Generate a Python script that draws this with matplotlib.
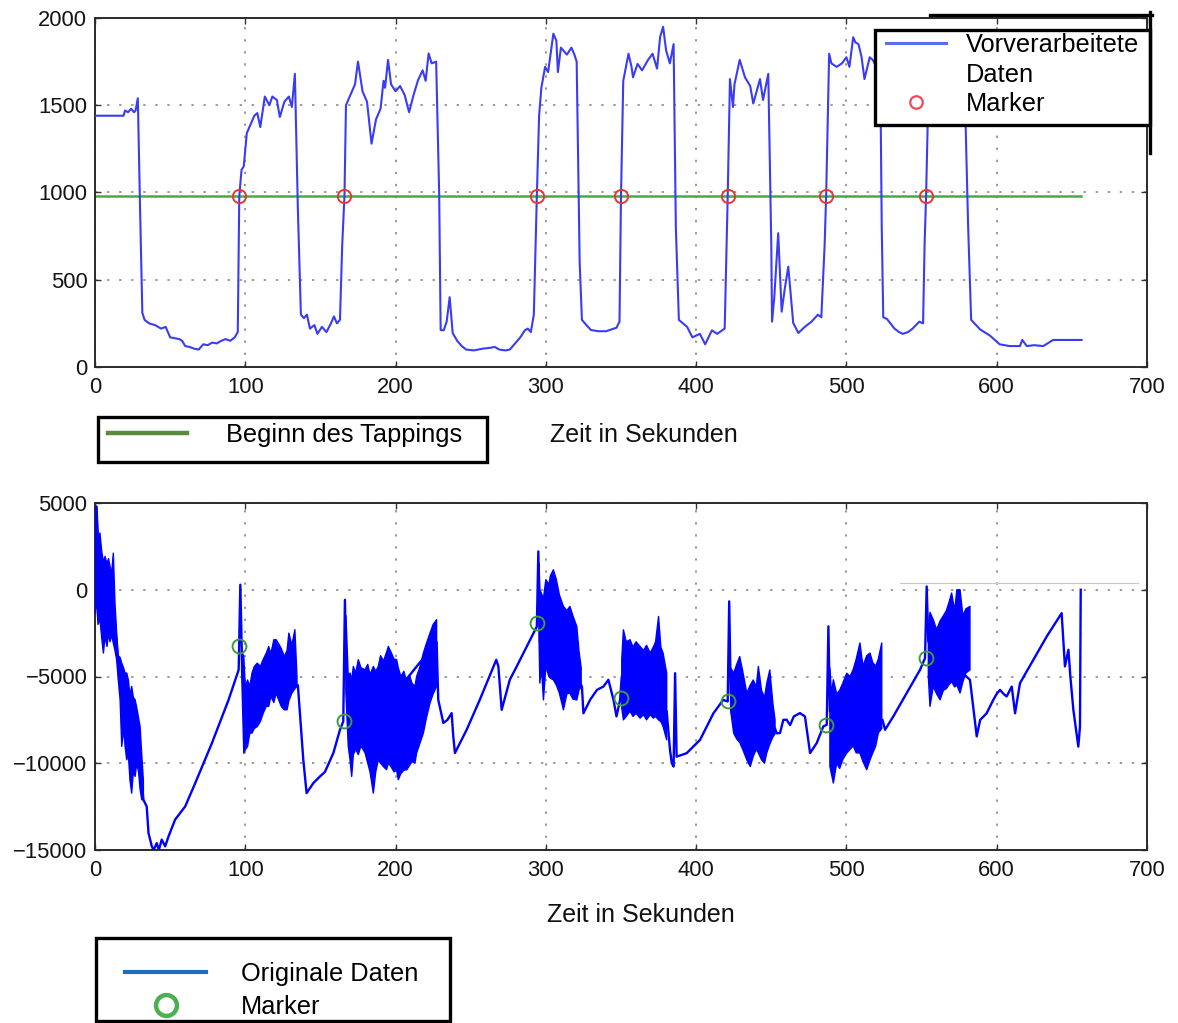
import numpy as np
import matplotlib
matplotlib.use("Agg")
import matplotlib.pyplot as plt
from matplotlib.lines import Line2D
from matplotlib.patches import Rectangle

plt.rcParams['font.family'] = ['Liberation Sans', 'DejaVu Sans']

# ---------------- data ----------------
# preprocessed signal (time s, value)
preprocessed = [
    (0, 1440), (19, 1440), (20, 1470), (22, 1460), (24, 1480), (26, 1460), (27, 1470), (28.5, 1540),
    (30, 900), (31.5, 310), (33, 270), (36, 250), (40, 240), (44, 220), (47, 230), (50, 170), (53, 165),
    (56, 160), (58, 150), (60, 120), (63, 115), (66, 105), (69, 100), (72, 130), (75, 125), (78, 140),
    (81, 135), (84, 150), (87, 160), (90, 150), (93, 170), (95, 200), (96, 980), (97.5, 1130), (99, 1150),
    (101, 1340), (104, 1400), (106, 1440), (108, 1455), (110, 1375), (113, 1550), (116, 1500), (118, 1550),
    (121, 1530), (123, 1433), (126, 1520), (129, 1550), (131, 1490), (133, 1680), (135, 900), (137, 300),
    (139, 280), (141, 300), (143, 220), (146, 240), (148, 190), (151, 230), (154, 200), (157, 250),
    (159, 290), (161, 250), (163, 270), (164.5, 700), (166, 980), (167, 1500), (169, 1540), (171, 1580),
    (173, 1620), (175, 1750), (178, 1580), (181, 1520), (184, 1280), (187, 1420), (190, 1480), (192, 1640),
    (193, 1600), (195, 1760), (197, 1620), (200, 1580), (203, 1610), (206, 1560), (209, 1460), (212, 1560),
    (215, 1645), (218, 1700), (220, 1640), (222, 1797), (224, 1740), (227, 1750), (229, 1000), (230, 212),
    (232, 210), (234, 260), (236, 400), (238, 195), (241, 150), (244, 120), (247, 100), (252, 95),
    (258, 105), (263, 110), (266, 115), (269, 100), (273, 95), (276, 100), (280, 140), (283, 170),
    (286, 210), (288, 220), (290, 200), (292, 300), (294, 980), (295.5, 1440), (297, 1600), (299.5, 1720),
    (301.5, 1690), (305, 1910), (307, 1870), (308, 1690), (310, 1830), (314, 1790), (317, 1830),
    (319, 1790), (320.5, 1750), (322.5, 600), (324, 270), (327, 240), (330, 212), (335, 205), (340, 205),
    (347, 225), (349, 260), (350, 980), (351.5, 1640), (355, 1795), (357, 1720), (358, 1660), (361, 1737),
    (364, 1700), (368, 1760), (371, 1795), (374, 1710), (376, 1890), (378, 1950), (380, 1815),
    (382.5, 1740), (385, 1850), (386.5, 800), (388.5, 270), (394, 230), (397.5, 170), (402.5, 190),
    (406, 130), (410.5, 210), (414, 190), (419, 220), (421, 980), (422.5, 1650), (424.5, 1490),
    (425.5, 1620), (429, 1760), (432.5, 1660), (436, 1610), (438, 1510), (442.5, 1650), (444.5, 1530),
    (448, 1680), (450, 700), (450.5, 260), (452, 400), (454.6, 767), (456.9, 317), (459, 450),
    (461.3, 575), (464.6, 252), (468, 195), (472.3, 230), (476.8, 260), (481, 300), (483.3, 285),
    (485.5, 700), (486.5, 980), (488.5, 1795), (490, 1740), (493.5, 1720), (497, 1740), (500, 1775),
    (502, 1720), (504.5, 1890), (506, 1860), (508, 1850), (510, 1780), (512, 1650), (515.5, 1775),
    (517.5, 1760), (520, 1720), (522.5, 1700), (523.5, 800), (524.5, 285), (527, 275), (532, 220),
    (535, 200), (537.5, 190), (541, 200), (544, 220), (548.5, 260), (551, 250), (552, 700), (553, 980),
    (555, 1750), (560, 1800), (565, 1750), (570, 1800), (575, 1750), (578.5, 1700), (579.5, 1320),
    (581, 800), (583, 270), (589, 215), (595.5, 180), (602, 130), (608.5, 120), (615.5, 120), (617, 155),
    (620, 120), (625, 125), (631, 120), (637.5, 155), (656.5, 155),
]

# start of tapping (threshold line)
tap_time = [0, 656]
tap_level = [980, 980]

# marker times
marker_time = [96, 166, 294, 350, 421, 486.5, 553]
marker_top_value = [980, 980, 980, 980, 980, 980, 980]
marker_orig_value = [-3230, -7590, -1920, -6250, -6440, -7800, -3940]

# original data: trend line (time s, value)
original = [
    (0, -1300), (1, 4800), (3, 1000), (6, -500), (10, -800), (13, -1500), (16, -5000), (20, -7000),
    (25, -8500), (30, -10000), (32.2, -12100), (34.4, -12490), (35.6, -14020), (37.8, -14790),
    (39, -15000), (41.1, -14600), (42.5, -15000), (44.4, -14400), (46.7, -14790), (48.9, -14220),
    (53.3, -13250), (60, -12490), (66.7, -11140), (77.8, -8840), (88.9, -6340), (95.6, -4610),
    (96.7, 290), (97.8, -4030), (100, -7000), (115, -5500), (130, -5000), (134.4, -5570), (135, -5500),
    (138.6, -9800), (140.8, -11720), (145.3, -11140), (149.7, -10760), (153, -10500), (158.6, -9410),
    (163, -8070), (165.2, -7590), (166.3, -580), (167.5, -6000), (190, -7000), (227.3, -3000),
    (228.4, -6340), (231.8, -7680), (234.5, -7500), (237.3, -7110), (238.4, -8450), (239.5, -9410),
    (247.3, -8070), (256, -6350), (267, -4040), (268.4, -4420), (270.6, -6920), (276, -5190),
    (280.6, -4420), (287.3, -3270), (294, -2120), (295, 2210), (296, -3000), (310, -3000),
    (324, -5580), (325, -7120), (329.4, -6350), (334, -5770), (338.3, -5580), (341.6, -5190),
    (345, -6350), (347, -7300), (349.4, -6350), (350.5, -5000), (380.4, -7000), (382.6, -9230),
    (383.8, -10000), (385, -10190), (386, -4810), (387, -9620), (393.7, -9420), (402.6, -8650),
    (411.5, -7120), (418, -6350), (421, -6440), (422, -670), (423, -6000), (452.5, -8000),
    (453.6, -8270), (455.8, -8260), (458, -7500), (460.2, -7490), (462.5, -7800), (465, -7300),
    (469.1, -7110), (472.4, -7300), (475.8, -9410), (480.2, -8840), (484.6, -7880), (486.9, -7780),
    (488, -2110), (489, -7000), (524, -7500), (525.7, -8070), (531.2, -7300), (540.1, -5960),
    (549, -4610), (552.3, -3940), (553.4, 190), (554.5, -3000), (582.2, -5190), (584, -6500),
    (586.7, -8450), (589, -7500), (593.3, -7120), (597.7, -6350), (600, -6000), (602.2, -5770),
    (604.5, -6000), (606.6, -6150), (610, -5580), (612.2, -7120), (615.5, -5380), (624.4, -4040),
    (633.3, -2690), (643.2, -1350), (645.4, -4420), (647.7, -3460), (649, -5000), (651, -6920),
    (654.3, -9040), (655.4, -7880), (655.9, 0),
]

# original data: oscillation envelope (time s, low, high); None separates bursts
oscillation = [
    (0, -1350, -1300), (1, -600, 4800), (2, -2000, 3000), (3.3, -1700, 3270), (4.5, -2800, 2200),
    (5.6, -3650, 1600), (6.7, -2700, 1920), (8, -3270, 1500), (9, -2500, 1800), (10, -3000, 1345),
    (11, -2600, 900), (12.2, -3075, 2110), (13.3, -3500, -800), (14.4, -4030, -2500),
    (15.5, -5200, -3800), (16.7, -6340, -3900), (17.8, -9030, -4230), (19, -8000, -4500),
    (20, -9000, -4800), (21.1, -9800, -4800), (22.2, -9500, -5200), (23.3, -11000, -6100),
    (24.4, -11720, -5570), (25.5, -10500, -6200), (26.7, -10760, -6340), (27.8, -10000, -6800),
    (29, -10500, -7400), (30, -11500, -7880), (31.1, -12100, -9500), (32.2, -12100, -11000),
    None,
    (97.5, -4500, -3500), (99, -9420, -3850), (100, -9220, -5570), (101.5, -9040, -5200),
    (103, -8270, -5570), (104.5, -8260, -4800), (106, -8000, -4420), (108, -7880, -4230),
    (110, -7600, -4420), (112, -7100, -4000), (114, -6720, -3650), (115.6, -6720, -3270),
    (117, -6150, -3700), (119, -6500, -2880), (120.5, -5960, -2880), (122, -6300, -3080),
    (124, -6730, -3400), (126, -6920, -3850), (127.8, -6920, -3500), (129, -6400, -2500),
    (131, -5960, -3200), (133, -5700, -2300), (134.4, -5570, -5000),
    None,
    (167, -6000, -1500), (168.5, -9000, -5000), (169.7, -9800, -4800), (170.8, -10760, -5200),
    (171.9, -9500, -4420), (173.5, -9200, -4800), (175.2, -9500, -4030), (177, -9000, -4500),
    (179.7, -9400, -4610), (181.5, -10000, -4300), (183, -10500, -4900), (185.2, -11720, -4420),
    (186.8, -10500, -4700), (188.5, -9800, -4420), (190, -10000, -3800), (192, -10200, -4100),
    (194, -10370, -3600), (195.2, -10000, -3270), (197, -10200, -3600), (199, -10500, -4000),
    (200.7, -10400, -4030), (201.8, -10950, -4500), (203.5, -10600, -5000), (205.5, -10400, -4700),
    (207.4, -10380, -5280), (209.5, -10100, -5000), (211, -9900, -5400), (212.9, -10000, -5570),
    (214, -9410, -5000), (216, -8900, -4500), (218.5, -8260, -3650), (220.5, -7400, -3100),
    (222.9, -6530, -2500), (225, -6000, -2000), (227.3, -5570, -1730),
    None,
    (295.5, -3000, 1500), (296, -5380, 0), (297, -4400, -200), (298.4, -6350, -500),
    (300, -4420, 580), (302, -5000, 300), (303, -5100, 800), (305, -5190, 1150), (307, -5500, 580),
    (309, -5960, -300), (311.7, -6920, -960), (314, -6000, -1200), (316, -5960, -960),
    (318, -6300, -1500), (320.6, -6350, -2120), (322, -5800, -3500), (323.5, -5580, -4500),
    None,
    (350.5, -6800, -4000), (351.6, -7500, -2310), (353.5, -7300, -3000), (356, -7000, -2880),
    (358, -7300, -3300), (360, -7120, -3000), (362.7, -7400, -3270), (365, -7200, -3500),
    (367, -7500, -3200), (369.4, -7200, -3650), (371.5, -7400, -3300), (373, -7300, -3000),
    (375, -7500, -1540), (376.5, -7600, -3300), (378, -7880, -3650), (380.4, -8650, -4810),
    None,
    (423, -7000, -4500), (425, -8270, -4810), (427, -8600, -4300), (429, -8800, -3850),
    (431, -9200, -4700), (433.7, -9800, -5960), (436, -10190, -5500), (438, -9600, -5200),
    (440, -9200, -5600), (441.4, -9400, -4420), (443.5, -9800, -5800), (445.5, -10000, -6200),
    (447, -9400, -5400), (449, -8900, -4620), (451, -8500, -6500), (452.5, -8300, -7500),
    None,
    (489, -10180, -4500), (490, -10600, -6000), (491.3, -11140, -5190), (493.5, -10000, -6000),
    (495.5, -10300, -5800), (497.5, -9800, -5400), (500.2, -9410, -4810), (502.4, -9200, -5000),
    (504.5, -9000, -4600), (506.5, -9400, -4000), (509, -9410, -3070), (511, -9900, -4400),
    (513.5, -10370, -3800), (515.7, -9800, -3650), (517.5, -9410, -4200), (519.5, -9000, -4400),
    (521.2, -8260, -4000), (523.5, -8000, -3070),
    None,
    (554.5, -5000, -2500), (555.6, -6720, -1300), (557.8, -5570, -1730), (560, -6000, -2300),
    (562.3, -6340, -1800), (564.5, -5800, -1500), (566.5, -5700, -1200), (568, -5500, -800),
    (570, -5300, -190), (572, -5600, -1200), (573.5, -5500, 0), (575.6, -5950, 0),
    (577.5, -5300, -1500), (579.5, -4800, -1100), (582.2, -4620, -960),
]

x_ticks = [0, 100, 200, 300, 400, 500, 600, 700]
top_y_ticks = [0, 500, 1000, 1500, 2000]
bot_y_ticks = [-15000, -10000, -5000, 0, 5000]

# ---------------- figure ----------------
W, H = 1178, 1023
fig = plt.figure(figsize=(W / 100, H / 100), dpi=100)


def fx(px):
    return px / W


def fy(py):
    return 1 - py / H


ax1 = fig.add_axes([fx(95), fy(367), fx(1147) - fx(95), fy(18) - fy(367)])
ax2 = fig.add_axes([fx(95), fy(850), fx(1147) - fx(95), fy(503) - fy(850)])

tick_fs = 15.8
for ax in (ax1, ax2):
    ax.set_xlim(0, 700)
    ax.set_xticks(x_ticks)
    ax.grid(True, color='#9a9a9a', linestyle=(0, (1.2, 5)), linewidth=1.4)
    ax.tick_params(direction='in', top=True, right=True, length=4, width=1,
                   labelsize=tick_fs, labelcolor='#141414', color='#333333')
    ax.tick_params(axis='x', pad=7.5)
    ax.tick_params(axis='y', pad=5.5)
    for s in ax.spines.values():
        s.set_linewidth(1.4)
        s.set_color('#2a2a2a')

# top axes
ax1.set_ylim(0, 2000)
ax1.set_yticks(top_y_ticks)
pt = np.array(preprocessed, dtype=float)
ax1.plot(pt[:, 0], pt[:, 1], color='#3a3cf5', lw=1.5, zorder=3)
ax1.plot(tap_time, tap_level, color='#4aa84a', lw=1.8, zorder=2)
ax1.plot(marker_time, marker_top_value, linestyle='none', marker='o', ms=9.5,
         mfc='none', mec='#e8353a', mew=1.4, zorder=4)

# bottom axes
ax2.set_ylim(-15000, 5000)
ax2.set_yticks(bot_y_ticks)
ot = np.array(original, dtype=float)
ax2.plot(ot[:, 0], ot[:, 1], color='#0000ff', lw=1.7, zorder=3)
osc = np.array([r if r is not None else (np.nan, np.nan, np.nan) for r in oscillation], dtype=float)
ax2.fill_between(osc[:, 0], osc[:, 1], osc[:, 2], facecolor='#0000ff', edgecolor='#0000ff',
                 lw=1.0, zorder=3)
ax2.plot(marker_time, marker_orig_value, linestyle='none', marker='o', ms=10,
         mfc='none', mec='#3c9a3c', mew=1.4, zorder=4)

# axis labels
fig.text(fx(644), fy(435), 'Zeit in Sekunden', fontsize=18, ha='center', va='center', color='#111111')
fig.text(fx(641), fy(915), 'Zeit in Sekunden', fontsize=18, ha='center', va='center', color='#111111')

leg_fs = 18.3

# legend: top
h_line = Line2D([], [], color='#5b6bf5', lw=2.2)
h_blank = Line2D([], [], alpha=0)
h_red = Line2D([], [], linestyle='none', marker='o', ms=9, mfc='none', mec='#f04a58', mew=1.6)
fig.patches.append(Rectangle((fx(875), fy(125)), fx(1150) - fx(875), fy(30) - fy(125),
                             transform=fig.transFigure, facecolor='white', edgecolor='none', zorder=4))
lg1 = fig.legend([h_line, h_blank, h_red], ['Vorverarbeitete', 'Daten', 'Marker'],
                 loc='upper left', bbox_to_anchor=(fx(886), fy(33)), frameon=False,
                 fontsize=leg_fs, handlelength=2.35, handletextpad=0.78, labelspacing=0.22,
                 borderpad=0.0, borderaxespad=0.0)
lg1.set_zorder(5)
fig.patches.append(Rectangle((fx(875), fy(125)), fx(1150) - fx(875), fy(30) - fy(125),
                             transform=fig.transFigure, fill=False, edgecolor='black', lw=2.4, zorder=6))
# image-edit frame remnants at the top right
fig.add_artist(Line2D([fx(930), fx(1152)], [fy(15), fy(15)], color='black', lw=2.4, zorder=6))
fig.add_artist(Line2D([fx(1150), fx(1150)], [fy(12), fy(153)], color='black', lw=2.4, zorder=6))

# legend: start of tapping
h_green = Line2D([], [], color='#5a8a3a', lw=3.2)
lg2 = fig.legend([h_green], ['Beginn des Tappings'], loc='upper left',
                 bbox_to_anchor=(fx(108), fy(423)), frameon=False, fontsize=leg_fs,
                 handlelength=3.1, handletextpad=1.55, borderpad=0.0, borderaxespad=0.0)
fig.patches.append(Rectangle((fx(98), fy(462)), fx(487) - fx(98), fy(417) - fy(462),
                             transform=fig.transFigure, fill=False, edgecolor='black', lw=2.4, zorder=6))

# legend: bottom
h_blue = Line2D([], [], color='#1f6fb8', lw=3.0)
h_gcirc = Line2D([], [], linestyle='none', marker='o', ms=15, mfc='none', mec='#4caf50', mew=3.2)
lg3 = fig.legend([h_blue, h_gcirc], ['Originale Daten', 'Marker'], loc='upper left',
                 bbox_to_anchor=(fx(125), fy(962)), frameon=False, fontsize=leg_fs,
                 handlelength=3.2, handletextpad=1.36, labelspacing=0.36,
                 borderpad=0.0, borderaxespad=0.0)
fig.patches.append(Rectangle((fx(96), fy(1021)), fx(450) - fx(96), fy(938) - fy(1021),
                             transform=fig.transFigure, fill=False, edgecolor='black', lw=2.4, zorder=6))

# faint remnant line in the lower panel
fig.add_artist(Line2D([fx(900), fx(1138)], [fy(583), fy(583)], color='#c8c8c8', lw=0.8, zorder=2))

fig.savefig('out.png', dpi=100, facecolor='white')
